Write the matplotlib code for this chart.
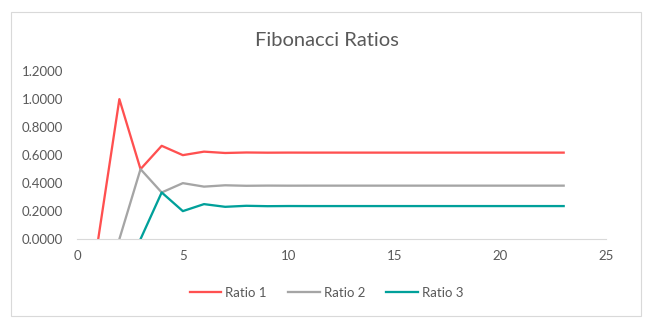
import matplotlib

matplotlib.use('Agg')
import matplotlib.pyplot as plt
from matplotlib.patches import Rectangle

n = list(range(1, 24))

# F(n-1)/F(n), F(n-2)/F(n), F(n-3)/F(n)
ratio_1 = [0.0, 1.0, 0.5, 0.6667, 0.6, 0.625, 0.6154, 0.6190, 0.6176, 0.6182,
           0.6180, 0.6181, 0.6180, 0.6180, 0.6180, 0.6180, 0.6180, 0.6180,
           0.6180, 0.6180, 0.6180, 0.6180, 0.6180]
ratio_2 = [None, 0.0, 0.5, 0.3333, 0.4, 0.375, 0.3846, 0.3810, 0.3824, 0.3818,
           0.3820, 0.3820, 0.3820, 0.3820, 0.3820, 0.3820, 0.3820, 0.3820,
           0.3820, 0.3820, 0.3820, 0.3820, 0.3820]
ratio_3 = [None, None, 0.0, 0.3333, 0.2, 0.25, 0.2308, 0.2381, 0.2353, 0.2364,
           0.2360, 0.2361, 0.2361, 0.2361, 0.2361, 0.2361, 0.2361, 0.2361,
           0.2361, 0.2361, 0.2361, 0.2361, 0.2361]

series = [('Ratio 1', ratio_1, '#FF5050'),
          ('Ratio 2', ratio_2, '#A5A5A5'),
          ('Ratio 3', ratio_3, '#00A09A')]

plt.rcParams['font.family'] = ['Lato', 'DejaVu Sans']
text_grey = '#595959'

fig = plt.figure(figsize=(6.53, 3.28), dpi=100)
fig.patches.append(Rectangle((11 / 653, 12 / 328), 630 / 653, 304 / 328,
                             transform=fig.transFigure, fill=False,
                             edgecolor='#D9D9D9', linewidth=0.8))

ax = fig.add_axes([0.118, 0.271, 0.810, 0.512])
for label, values, color in series:
    xs = [x for x, v in zip(n, values) if v is not None]
    ys = [v for v in values if v is not None]
    ax.plot(xs, ys, color=color, linewidth=1.65, label=label, clip_on=True)

ax.set_xlim(0, 25)
ax.set_ylim(0, 1.2)
ax.set_xticks([0, 5, 10, 15, 20, 25])
ax.set_yticks([0, 0.2, 0.4, 0.6, 0.8, 1.0, 1.2])
ax.set_yticklabels([f'{v:.4f}' for v in ax.get_yticks()])
for side in ['top', 'right', 'left']:
    ax.spines[side].set_visible(False)
ax.spines['bottom'].set_color('#D9D9D9')
ax.tick_params(length=0, labelsize=9.5, colors=text_grey)
ax.tick_params(axis='x', pad=8)
ax.tick_params(axis='y', pad=10)

fig.text(0.5, 0.878, 'Fibonacci Ratios', ha='center', va='center',
         fontsize=14.5, color=text_grey)
fig.legend(loc='center', bbox_to_anchor=(0.5, 0.108), ncol=3, frameon=False,
           fontsize=9.5, labelcolor=text_grey, handlelength=2.4,
           handletextpad=0.3, columnspacing=1.6)

fig.savefig('out.png', dpi=100)
